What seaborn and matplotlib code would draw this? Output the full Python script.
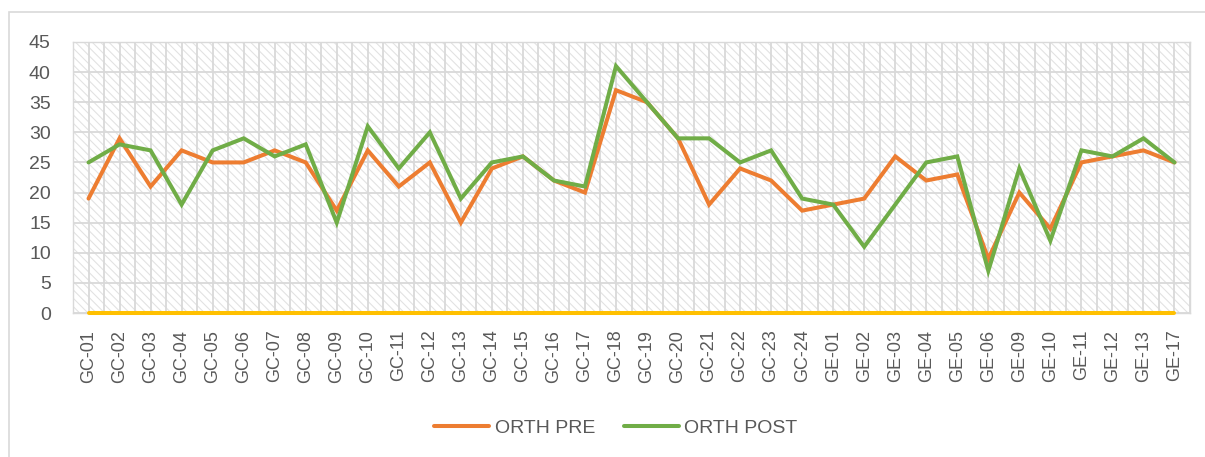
import matplotlib
matplotlib.use("Agg")
import matplotlib.pyplot as plt
from matplotlib.patches import Rectangle
from matplotlib.lines import Line2D
import numpy as np
import pandas as pd
import seaborn as sns

# Subject codes along the x axis
categories = [
    "GC-01", "GC-02", "GC-03", "GC-04", "GC-05", "GC-06", "GC-07", "GC-08",
    "GC-09", "GC-10", "GC-11", "GC-12", "GC-13", "GC-14", "GC-15", "GC-16",
    "GC-17", "GC-18", "GC-19", "GC-20", "GC-21", "GC-22", "GC-23", "GC-24",
    "GE-01", "GE-02", "GE-03", "GE-04", "GE-05", "GE-06", "GE-09", "GE-10",
    "GE-11", "GE-12", "GE-13", "GE-17",
]

orth_pre = [19, 29, 21, 27, 25, 25, 27, 25, 17, 27, 21, 25, 15, 24, 26, 22,
            20, 37, 35, 29, 18, 24, 22, 17, 18, 19, 26, 22, 23, 9, 20, 14,
            25, 26, 27, 25]

orth_post = [25, 28, 27, 18, 27, 29, 26, 28, 15, 31, 24, 30, 19, 25, 26, 22,
             21, 41, 35, 29, 29, 25, 27, 19, 18, 11, 18, 25, 26, 7, 24, 12,
             27, 26, 29, 25]

# Third (empty) series that sits on the baseline
orth_diff = [0] * len(categories)

series_names = ["ORTH PRE", "ORTH POST", "ORTH DIFF"]
y_ticks = [0, 5, 10, 15, 20, 25, 30, 35, 40, 45]

df = pd.DataFrame({
    "subject": categories * 3,
    "score": orth_pre + orth_post + orth_diff,
    "series": [series_names[0]] * len(categories)
    + [series_names[1]] * len(categories)
    + [series_names[2]] * len(categories),
})

sns.set_theme(style="white")
plt.rcParams["font.family"] = ["Liberation Sans", "DejaVu Sans"]
plt.rcParams["hatch.linewidth"] = 0.8

text_color = "#595959"
grid_color = "#D9D9D9"
palette = {"ORTH PRE": "#ED7D31", "ORTH POST": "#70AD47", "ORTH DIFF": "#FFC000"}

fig = plt.figure(figsize=(12.05, 4.57), dpi=100)
ax = fig.add_axes([73 / 1205, 1 - 313 / 457, (1190 - 73) / 1205, (313 - 42) / 457])

# Patterned plot-area background
ax.patch.set_facecolor("white")
bg = Rectangle((0, 0), 1, 1, transform=ax.transAxes, facecolor="white",
               edgecolor="#E2E2E2", hatch="\\\\\\\\", linewidth=0, zorder=0)
ax.add_patch(bg)

sns.lineplot(data=df, x="subject", y="score", hue="series", palette=palette,
             hue_order=series_names, sort=False, linewidth=2.9, ax=ax,
             legend=False, zorder=3)
for ln in ax.lines:
    ln.set_solid_capstyle("round")
    ln.set_solid_joinstyle("miter")
    ln.set_clip_on(False)
    ln.set_zorder(4)

n = len(categories)
ax.set_xlim(-0.5, n - 0.5)
ax.set_ylim(0, 45)
ax.set_yticks(y_ticks)
ax.set_xticks(range(n))
ax.set_xticklabels(categories, rotation=90)

# Gridlines: horizontal at every 5, vertical at every half category
for y in y_ticks:
    ax.axhline(y, color=grid_color, linewidth=1.3, zorder=1)
for x in np.arange(-0.5, n, 0.5):
    ax.axvline(x, color=grid_color, linewidth=1.3, zorder=1)

for side in ["top", "right", "left", "bottom"]:
    ax.spines[side].set_color(grid_color)
    ax.spines[side].set_linewidth(1.0)
    ax.spines[side].set_zorder(2)

ax.tick_params(axis="y", length=0, pad=16, labelsize=14, colors=text_color)
ax.tick_params(axis="x", length=0, pad=12, labelsize=13, colors=text_color)
ax.set_xlabel("")
ax.set_ylabel("")

handles = [Line2D([0], [0], color=palette[s], linewidth=2.9, solid_capstyle="round")
           for s in series_names[:2]]
leg = fig.legend(handles, series_names[:2], loc="center", ncol=2,
                 bbox_to_anchor=(616 / 1205, 1 - 428 / 457), frameon=False,
                 fontsize=14, handlelength=2.8, handletextpad=0.3,
                 columnspacing=1.5, labelcolor=text_color)

# Chart-area border
fig.patches.append(Rectangle((9 / 1205, -0.1), 1.2, 1.1 - 12 / 457,
                             transform=fig.transFigure, fill=False,
                             edgecolor="#D9D9D9", linewidth=1.2))

fig.savefig("out.png", dpi=100, facecolor="white")
